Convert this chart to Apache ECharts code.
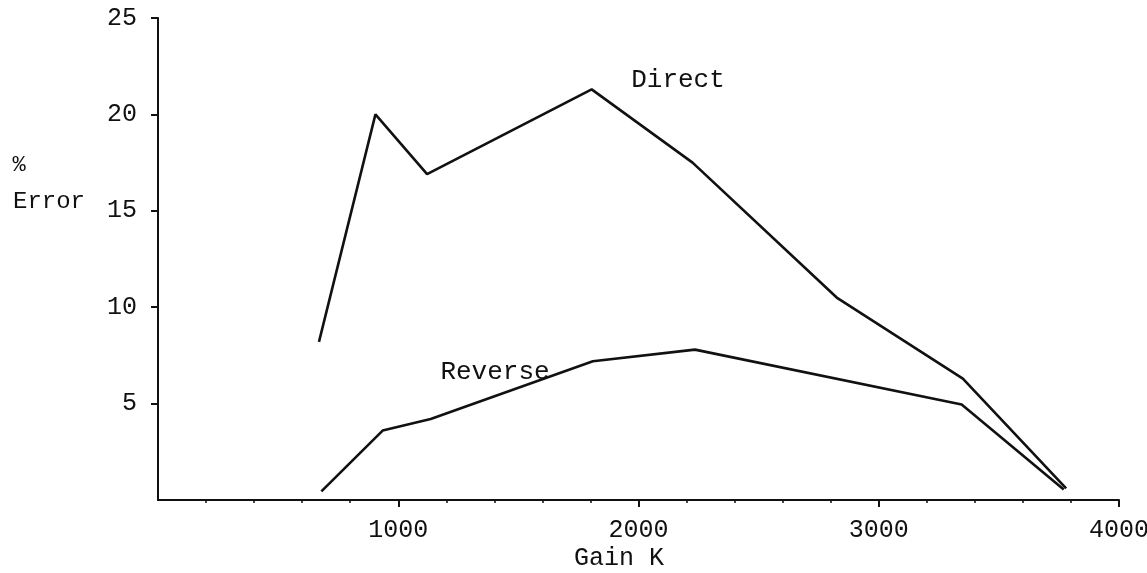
<!DOCTYPE html>
<html>
<head>
<meta charset="utf-8">
<script src="https://cdn.jsdelivr.net/npm/echarts@6/dist/echarts.min.js"></script>
<style>
  html, body { margin: 0; padding: 0; background: #fff; }
  #chart { width: 1147px; height: 573px; }
</style>
</head>
<body>
<div id="chart"></div>
<script>
// Percentage error against gain K for the two methods
const directGain   = [670, 905, 1120, 1805, 2225, 2825, 3350, 3780];
const directError  = [8.2, 20.0, 16.9, 21.3, 17.5, 10.5, 6.3, 0.6];
const reverseGain  = [680, 935, 1135, 1810, 2235, 3345, 3770];
const reverseError = [0.45, 3.6, 4.2, 7.2, 7.8, 4.95, 0.55];

const xTicks = [1000, 2000, 3000, 4000];
const yTicks = [5, 10, 15, 20, 25];
const seriesNames = ['Direct', 'Reverse'];
const xTitle = 'Gain K';
const yTitle = ['%', 'Error'];

const FONT_FAMILY = '"Liberation Mono", "Courier New", monospace';
const INK = '#111';

const chart = echarts.init(document.getElementById('chart'), null, { renderer: 'canvas' });

function pairs(xs, ys) { return xs.map((x, i) => [x, ys[i]]); }

const tickLine = { color: INK, width: 2 };
const minorLine = { color: INK, width: 1.5 };
const plain = v => String(v);

const labelStyle = { color: INK, fontFamily: FONT_FAMILY, fontSize: 25, formatter: plain };

function textAt(text, x, y, size) {
  return {
    type: 'text', x: x, y: y, silent: true,
    style: {
      text: text, fill: INK, font: size + 'px ' + FONT_FAMILY,
      textAlign: 'center', textVerticalAlign: 'middle'
    }
  };
}

chart.setOption({
  animation: false,
  backgroundColor: '#fff',
  grid: { left: 158, right: 28, top: 18, bottom: 73, containLabel: false, outerBoundsMode: 'none' },
  xAxis: {
    type: 'value', min: 0, max: 4000, interval: 1000, position: 'bottom',
    splitLine: { show: false }, minorSplitLine: { show: false },
    axisLine: { show: true, onZero: false, lineStyle: { color: INK, width: 2 } },
    axisTick: { show: true, inside: false, length: 7, customValues: xTicks, lineStyle: tickLine },
    minorTick: { show: true, splitNumber: 5, length: 3, lineStyle: minorLine },
    axisLabel: Object.assign({ show: true, margin: 18, customValues: xTicks }, labelStyle)
  },
  yAxis: {
    type: 'value', min: 0, max: 25, interval: 5, position: 'left',
    splitLine: { show: false },
    axisLine: { show: true, onZero: false, lineStyle: { color: INK, width: 2 } },
    axisTick: { show: true, inside: false, length: 7, customValues: yTicks, lineStyle: tickLine },
    axisLabel: Object.assign({ show: true, margin: 21, customValues: yTicks }, labelStyle)
  },
  series: [
    {
      name: seriesNames[0], type: 'line',
      data: pairs(directGain, directError), symbol: 'none', silent: true,
      lineStyle: { color: INK, width: 2.6 }
    },
    {
      name: seriesNames[1], type: 'line',
      data: pairs(reverseGain, reverseError), symbol: 'none', silent: true,
      lineStyle: { color: INK, width: 2.6 }
    }
  ],
  graphic: [
    textAt(seriesNames[0], 678, 80, 26),
    textAt(seriesNames[1], 495, 372, 26),
    textAt(yTitle[0], 19, 165, 22),
    textAt(yTitle[1], 49, 202, 24),
    textAt(xTitle, 619, 558, 25)
  ]
});
</script>
</body>
</html>
